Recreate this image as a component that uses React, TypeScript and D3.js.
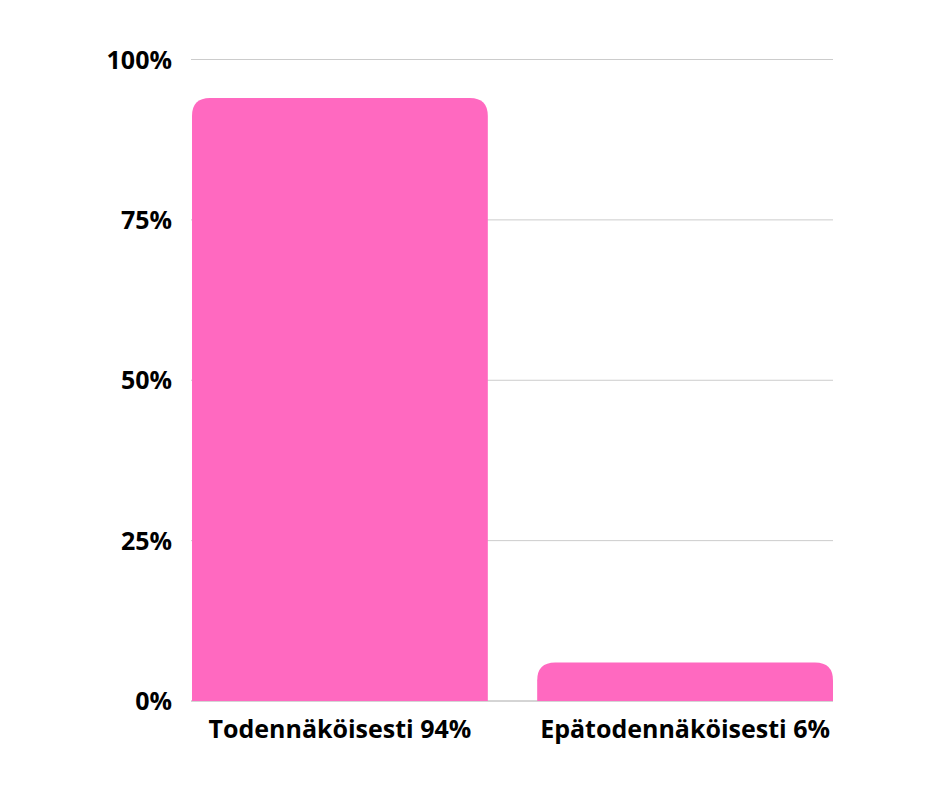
import * as d3 from "d3";

const categories = ["Todennäköisesti 94%", "Epätodennäköisesti 6%"];
const values = [94, 6];
const tickValues = [0, 25, 50, 75, 100];

const W = 940;
const H = 788;
const margin = { top: 59.5, right: 107, bottom: 87, left: 192 };

function topRoundedBar(x: number, y: number, w: number, h: number, r: number) {
    const rr = Math.min(r, h, w / 2);
    return `M${x},${y + h}V${y + rr}Q${x},${y} ${x + rr},${y}H${x + w - rr}Q${x + w},${y} ${x + w},${y + rr}V${y + h}Z`;
}

export default function App() {
    const x = d3.scaleBand<string>()
        .domain(categories)
        .range([margin.left, W - margin.right])
        .paddingInner(0.143)
        .paddingOuter(0);

    const y = d3.scaleLinear()
        .domain([0, 100])
        .range([H - margin.bottom, margin.top]);

    const font = "'Open Sans', 'Noto Sans', sans-serif";

    return (
        <svg width={W} height={H} style={{ display: "block", margin: "-8px", background: "#fff" }}>
            {/* gridlines */}
            {tickValues.map(t => (
                <line
                    key={t}
                    x1={margin.left - 1}
                    x2={W - margin.right}
                    y1={y(t)}
                    y2={y(t)}
                    stroke={t === 0 ? "#aaaaaa" : "#cccccc"}
                    strokeWidth={1}
                />
            ))}
            {/* tick labels */}
            {tickValues.map(t => (
                <text
                    key={"t" + t}
                    x={172}
                    y={y(t)}
                    dy="0.36em"
                    textAnchor="end"
                    fontFamily={font}
                    fontWeight={700}
                    fontSize={25}
                    fill="#000"
                >
                    {t}%
                </text>
            ))}
            {/* bars */}
            {categories.map((c, i) => {
                const bx = x(c) || 0;
                const by = y(values[i]);
                return (
                    <path
                        key={c}
                        d={topRoundedBar(bx, by, x.bandwidth(), y(0) - by, 18)}
                        fill="#ff69c0"
                    />
                );
            })}
            {/* category labels */}
            {categories.map(c => (
                <text
                    key={"c" + c}
                    x={(x(c) || 0) + x.bandwidth() / 2}
                    y={729}
                    dy="0.36em"
                    textAnchor="middle"
                    fontFamily={font}
                    fontWeight={700}
                    fontSize={25}
                    fill="#000"
                >
                    {c}
                </text>
            ))}
        </svg>
    );
}
